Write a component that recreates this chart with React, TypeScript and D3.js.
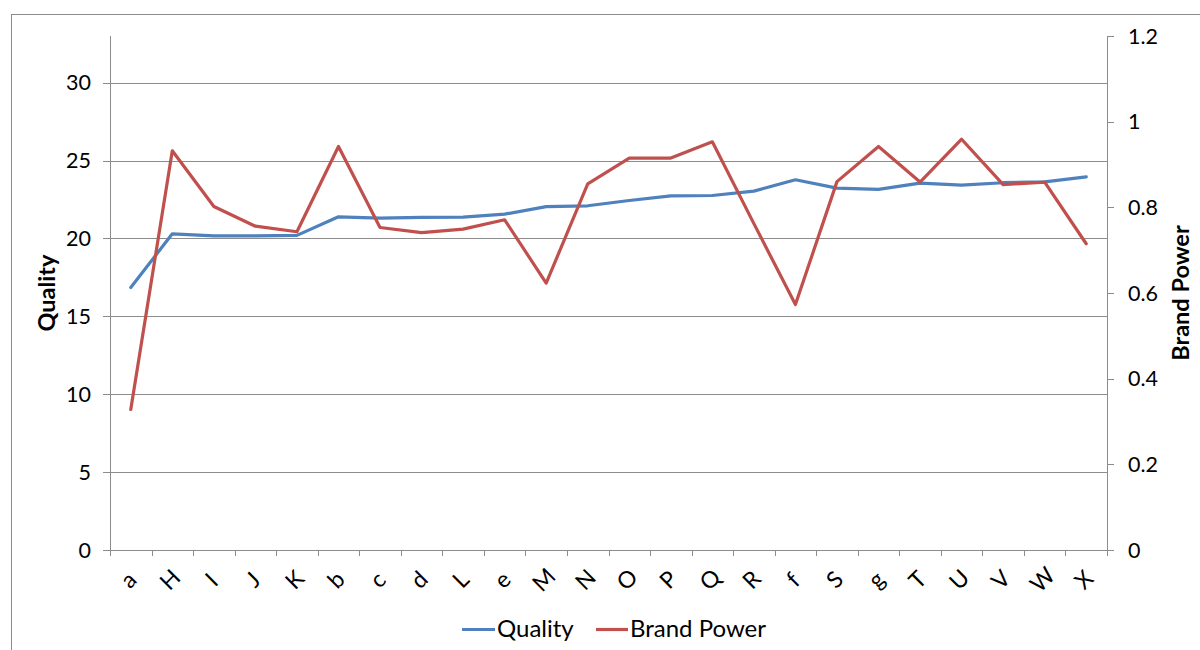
import React from "react";
import * as d3 from "d3";

// Category labels along the x axis
const categories = ["a", "H", "I", "J", "K", "b", "c", "d", "L", "e", "M", "N", "O", "P", "Q", "R", "f", "S", "g", "T", "U", "V", "W", "X"];

// Quality score (left axis)
const quality = [16.85, 20.3, 20.17, 20.17, 20.2, 21.39, 21.31, 21.35, 21.37, 21.56, 22.05, 22.1, 22.44, 22.74, 22.76, 23.04, 23.77, 23.23, 23.15, 23.55, 23.43, 23.58, 23.64, 23.96];

// Brand power index (right axis)
const brandPower = [0.328, 0.932, 0.802, 0.756, 0.743, 0.942, 0.753, 0.741, 0.749, 0.771, 0.623, 0.855, 0.915, 0.915, 0.953, 0.762, 0.573, 0.86, 0.942, 0.859, 0.959, 0.853, 0.859, 0.715];

const leftTicks = [0, 5, 10, 15, 20, 25, 30];
const rightTicks = [0, 0.2, 0.4, 0.6, 0.8, 1, 1.2];

const W = 1200;
const H = 650;
const plot = { left: 110, right: 1107, top: 36, bottom: 550 };
const FONT = "Lato, 'Open Sans', sans-serif";
const GRID = "#8c8c8c";
const BLUE = "#4F81BD";
const RED = "#C0504D";

export default function App() {
  const x = d3
    .scaleBand<string>()
    .domain(categories)
    .range([plot.left, plot.right])
    .paddingInner(0)
    .paddingOuter(0);
  const yL = d3.scaleLinear().domain([0, 33]).range([plot.bottom, plot.top]);
  const yR = d3.scaleLinear().domain([0, 1.2]).range([plot.bottom, plot.top]);
  const cx = (c: string) => (x(c) as number) + x.bandwidth() / 2;

  const qualityLine = d3
    .line<number>()
    .x((_, i) => cx(categories[i]))
    .y((d) => yL(d))(quality) as string;
  const brandLine = d3
    .line<number>()
    .x((_, i) => cx(categories[i]))
    .y((d) => yR(d))(brandPower) as string;

  const boundaries = d3.range(categories.length + 1).map((i) => plot.left + i * x.bandwidth());

  return (
    <svg
      width={W}
      height={H}
      style={{ position: "absolute", left: 0, top: 0, display: "block", background: "#fff" }}
      fontFamily={FONT}
    >
      {/* chart frame */}
      <rect x={11.5} y={14.5} width={1240} height={700} fill="#fff" stroke="#8c8c8c" strokeWidth={1} />

      {/* horizontal gridlines */}
      {leftTicks.slice(1).map((t) => (
        <line key={"g" + t} x1={plot.left} x2={plot.right} y1={Math.round(yL(t)) + 0.5} y2={Math.round(yL(t)) + 0.5} stroke={GRID} strokeWidth={1} />
      ))}

      {/* left axis */}
      <line x1={plot.left + 0.5} x2={plot.left + 0.5} y1={plot.top} y2={plot.bottom + 6} stroke={GRID} />
      {leftTicks.map((t) => (
        <g key={"l" + t}>
          <line x1={plot.left - 7} x2={plot.left} y1={Math.round(yL(t)) + 0.5} y2={Math.round(yL(t)) + 0.5} stroke={GRID} />
          <text x={91} y={yL(t)} dy="0.35em" textAnchor="end" fontSize={21.5} fill="#000">
            {t}
          </text>
        </g>
      ))}

      {/* right axis */}
      <line x1={plot.right + 0.5} x2={plot.right + 0.5} y1={plot.top} y2={plot.bottom} stroke={GRID} />
      {rightTicks.map((t) => (
        <g key={"r" + t}>
          <line x1={plot.right} x2={plot.right + 7} y1={Math.round(yR(t)) + 0.5} y2={Math.round(yR(t)) + 0.5} stroke={GRID} />
          <text x={1128} y={yR(t)} dy="0.35em" textAnchor="start" fontSize={21.5} fill="#000">
            {d3.format("~g")(t)}
          </text>
        </g>
      ))}

      {/* x axis */}
      <line x1={plot.left} x2={plot.right} y1={plot.bottom + 0.5} y2={plot.bottom + 0.5} stroke={GRID} />
      {boundaries.map((b, i) => (
        <line key={"t" + i} x1={Math.round(b) + 0.5} x2={Math.round(b) + 0.5} y1={plot.bottom} y2={plot.bottom + 6} stroke={GRID} />
      ))}
      {categories.map((c) => (
        <text
          key={"c" + c}
          transform={`translate(${cx(c) - 3},${579}) rotate(-45)`}
          textAnchor="middle"
          dominantBaseline="central"
          fontSize={23}
          fill="#000"
        >
          {c}
        </text>
      ))}

      {/* series */}
      <path d={qualityLine} fill="none" stroke={BLUE} strokeWidth={3.2} strokeLinejoin="round" strokeLinecap="round" />
      <path d={brandLine} fill="none" stroke={RED} strokeWidth={3.2} strokeLinejoin="round" strokeLinecap="round" />

      {/* axis titles */}
      <text transform={`translate(55,${(plot.top + plot.bottom) / 2}) rotate(-90)`} textAnchor="middle" fontSize={23.5} fontWeight="bold" fill="#000">
        Quality
      </text>
      <text transform={`translate(1189,${(plot.top + plot.bottom) / 2}) rotate(-90)`} textAnchor="middle" fontSize={23.5} fontWeight="bold" fill="#000">
        Brand Power
      </text>

      {/* legend */}
      <line x1={462} x2={495} y1={629.5} y2={629.5} stroke={BLUE} strokeWidth={3.2} />
      <text x={497} y={629} dy="0.35em" fontSize={24} fill="#000">
        Quality
      </text>
      <line x1={596} x2={628} y1={629.5} y2={629.5} stroke={RED} strokeWidth={3.2} />
      <text x={630} y={629} dy="0.35em" fontSize={24} fill="#000">
        Brand Power
      </text>
    </svg>
  );
}
